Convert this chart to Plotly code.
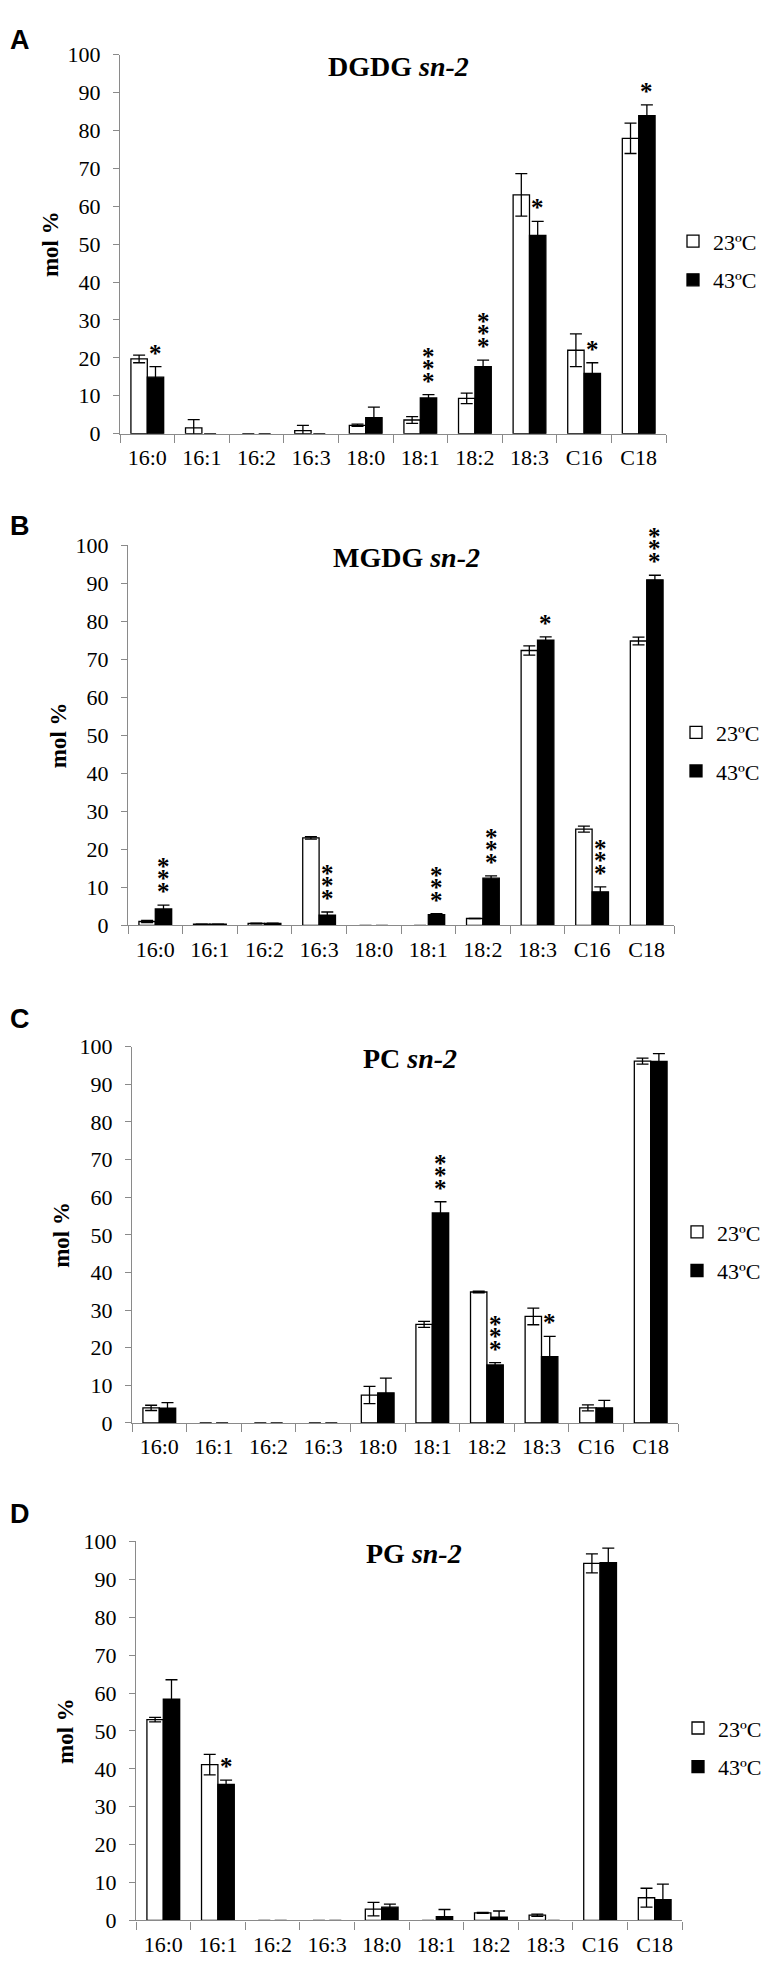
import plotly.graph_objects as go

W, H = 769, 1963

categories = ["16:0", "16:1", "16:2", "16:3", "18:0", "18:1", "18:2", "18:3", "C16", "C18"]
series_names = ["23ºC", "43ºC"]

# Panel A: DGDG sn-2
dgdg_23 = [19.7, 1.5, 0, 0.8, 2.2, 3.6, 9.3, 63.0, 22.0, 77.9]
dgdg_23_err = [1.0, 2.2, None, 1.4, 0.3, 0.9, 1.4, 5.6, 4.3, 4.0]
dgdg_43 = [14.9, 0, 0, 0, 4.2, 9.4, 17.7, 52.3, 15.9, 83.9]
dgdg_43_err = [2.8, None, None, None, 2.8, 0.9, 1.7, 3.7, 2.8, 2.8]
dgdg_sig = ["*", "", "", "", "", "***", "***", "*", "*", "*"]

# Panel B: MGDG sn-2
mgdg_23 = [1.0, 0.3, 0.5, 23.0, 0, 0, 1.8, 72.3, 25.3, 74.8]
mgdg_23_err = [0.3, None, 0.1, 0.3, None, None, None, 1.2, 0.8, 1.0]
mgdg_43 = [4.3, 0.3, 0.5, 2.7, 0, 2.8, 12.4, 75.0, 8.8, 90.9]
mgdg_43_err = [1.0, None, 0.1, 0.8, None, 0.3, 0.6, 0.9, 1.3, 1.2]
mgdg_sig = ["***", "", "", "***", "", "***", "***", "*", "***", "***"]

# Panel C: PC sn-2
pc_23 = [4.0, 0, 0, 0, 7.4, 26.2, 34.8, 28.3, 4.0, 96.2]
pc_23_err = [0.7, None, None, None, 2.3, 0.8, 0.2, 2.2, 0.8, 0.8]
pc_43 = [3.9, 0, 0, 0, 8.0, 55.8, 15.4, 17.6, 4.0, 96.1]
pc_43_err = [1.5, None, None, None, 3.9, 3.0, 0.6, 5.4, 2.0, 2.1]
pc_sig = ["", "", "", "", "", "***", "***", "*", "", ""]

# Panel D: PG sn-2
pg_23 = [53.0, 41.1, 0, 0, 3.0, 0, 2.0, 1.4, 94.2, 6.0]
pg_23_err = [0.6, 2.7, None, None, 1.8, None, 0.15, 0.3, 2.5, 2.5]
pg_43 = [58.4, 35.9, 0, 0, 3.5, 1.0, 0.9, 0, 94.4, 5.5]
pg_43_err = [5.1, 1.1, None, None, 0.8, 1.9, 1.6, None, 3.8, 4.1]
pg_sig = ["", "*", "", "", "", "", "", "", "", ""]

y_ticks = [0, 10, 20, 30, 40, 50, 60, 70, 80, 90, 100]

panels = [
    dict(letter="A", lipid="DGDG", v23=dgdg_23, e23=dgdg_23_err, v43=dgdg_43, e43=dgdg_43_err, sig=dgdg_sig,
         x0=112, x1=658, ytop=35, ybot=419, letter_y=20, leg_x=665),
    dict(letter="B", lipid="MGDG", v23=mgdg_23, e23=mgdg_23_err, v43=mgdg_43, e43=mgdg_43_err, sig=mgdg_sig,
         x0=120, x1=666, ytop=532, ybot=917, letter_y=513, leg_x=668),
    dict(letter="C", lipid="PC", v23=pc_23, e23=pc_23_err, v43=pc_43, e43=pc_43_err, sig=pc_sig,
         x0=124, x1=670, ytop=1040, ybot=1421, letter_y=1012, leg_x=669),
    dict(letter="D", lipid="PG", v23=pg_23, e23=pg_23_err, v43=pg_43, e43=pg_43_err, sig=pg_sig,
         x0=128, x1=674, ytop=1541, ybot=1925, letter_y=1513, leg_x=670),
]

SERIF = "Liberation Serif"
AXIS_GRAY = "#8a8a8a"
BARGAP = 0.4
STAR = '<span style="font-size:25px"><b>*</b></span>'

fig = go.Figure()
annotations = []
layout = {}

def px_x(p):
    return p / W

def px_y(p):
    return 1 - p / H

for i, p in enumerate(panels):
    n = "" if i == 0 else str(i + 1)
    xa, ya = "x" + n, "y" + n
    leg = "legend" + n
    for name, vals, errs, fill in [(series_names[0], p["v23"], p["e23"], "white"),
                                   (series_names[1], p["v43"], p["e43"], "black")]:
        fig.add_trace(go.Bar(
            x=categories, y=vals, name=name, xaxis=xa, yaxis=ya, legend=leg,
            legendgroup=f"{p['letter']}_{name}",
            marker=dict(color=fill, line=dict(color="black",
                                              width=[1.3 if v > 0 else 0 for v in vals])),
            error_y=dict(type="data", array=[e if e is not None else float("nan") for e in errs],
                         visible=True, color="black", thickness=1.3, width=6),
            hoverinfo="x+y+name",
        ))
    layout["xaxis" + n] = dict(
        domain=[px_x(p["x0"]), px_x(p["x1"])], anchor=ya,
        type="category", categoryorder="array", categoryarray=categories,
        showline=True, linecolor=AXIS_GRAY, linewidth=1.3,
        ticks="outside", tickson="boundaries", ticklen=8, tickcolor=AXIS_GRAY, tickwidth=1.3,
        tickfont=dict(family=SERIF, size=22, color="black"), ticklabelstandoff=4,
        showgrid=False, zeroline=False, fixedrange=True,
    )
    layout["yaxis" + n] = dict(
        domain=[px_y(p["ybot"]), px_y(p["ytop"])], anchor=xa,
        range=[0, 100], tickvals=y_ticks, ticktext=[str(t) for t in y_ticks],
        showline=True, linecolor=AXIS_GRAY, linewidth=1.3,
        ticks="outside", ticklen=6, tickcolor=AXIS_GRAY, tickwidth=1.3,
        tickfont=dict(family=SERIF, size=22, color="black"), ticklabelstandoff=8,
        showgrid=False, zeroline=False, fixedrange=True,
    )
    # legend
    layout[leg] = dict(
        x=px_x(p["leg_x"]), xanchor="left",
        y=px_y((p["ytop"] + p["ybot"]) / 2 + 17), yanchor="middle",
        xref="paper", yref="paper",
        font=dict(family=SERIF, size=22, color="black"),
        tracegroupgap=7, bgcolor="rgba(0,0,0,0)", borderwidth=0,
        itemwidth=30,
    )
    # panel letter
    annotations.append(dict(
        x=px_x(12), y=px_y(p["letter_y"]), xref="paper", yref="paper",
        text=f"<b>{p['letter']}</b>", showarrow=False, xanchor="center", yanchor="middle",
        font=dict(family="Liberation Sans", size=27, color="black"),
    ))
    # panel title
    annotations.append(dict(
        x=px_x(p["x0"] + 278), y=px_y(p["ytop"] + 12), xref="paper", yref="paper",
        text=f"<b>{p['lipid']} <i>sn-2</i></b>", showarrow=False, xanchor="center", yanchor="middle",
        font=dict(family=SERIF, size=28, color="black"),
    ))
    # y axis title
    annotations.append(dict(
        x=px_x(p["x0"] - 70), y=px_y((p["ytop"] + p["ybot"]) / 2), xref="paper", yref="paper",
        text="<b>mol %</b>", showarrow=False, textangle=-90, xanchor="center", yanchor="middle",
        font=dict(family=SERIF, size=23, color="black"),
    ))
    # significance asterisks above the 43ºC bars (one stacked text per bar)
    cat_w = (p["x1"] - p["x0"]) / len(categories)
    bar_w = cat_w * (1 - BARGAP) / 2
    for c, v, e, s in zip(categories, p["v43"], p["e43"], p["sig"]):
        if not s:
            continue
        top = v + (e if e is not None else 0)
        annotations.append(dict(
            x=c, y=top, xref=xa, yref=ya, text="<br>".join([STAR] * len(s)), showarrow=False,
            xanchor="center", yanchor="bottom", xshift=bar_w / 2, yshift=-2,
            font=dict(family=SERIF, size=9.5, color="black"),
        ))

fig.update_layout(
    width=W, height=H,
    margin=dict(l=0, r=0, t=0, b=0),
    paper_bgcolor="white", plot_bgcolor="white",
    barmode="group", bargap=BARGAP, bargroupgap=0,
    showlegend=True,
    annotations=annotations,
    **layout,
)

fig.write_html("out.html")
